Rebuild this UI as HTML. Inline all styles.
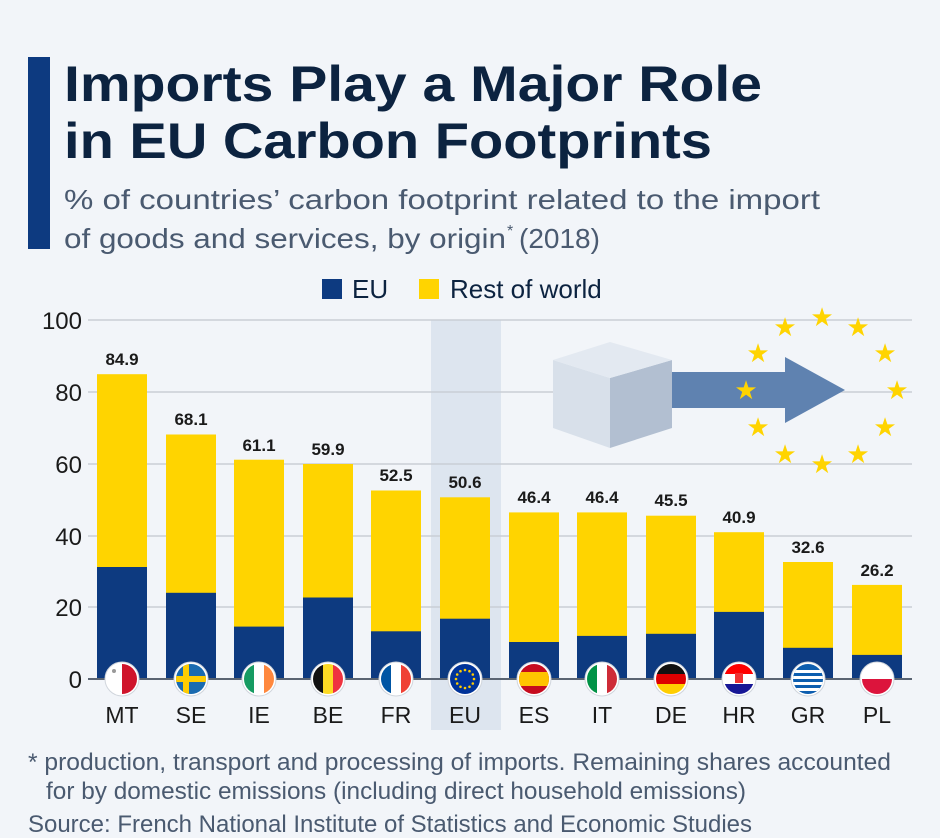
<!DOCTYPE html>
<html><head><meta charset="utf-8"><style>
body{margin:0;background:#f2f5f9;}
svg{display:block;font-family:"Liberation Sans","DejaVu Sans",sans-serif;}
</style></head><body>
<svg width="940" height="838" viewBox="0 0 940 838" xmlns="http://www.w3.org/2000/svg">
<defs><clipPath id="fc"><circle cx="0" cy="0" r="15"/></clipPath></defs>
<rect width="940" height="838" fill="#f2f5f9"/>
<rect x="28" y="57" width="22" height="192" fill="#0d3a80"/>
<text x="64" y="101" font-size="50" font-weight="bold" fill="#0c2340" textLength="698" lengthAdjust="spacingAndGlyphs">Imports Play a Major Role</text>
<text x="64" y="158" font-size="50" font-weight="bold" fill="#0c2340" textLength="648" lengthAdjust="spacingAndGlyphs">in EU Carbon Footprints</text>
<text x="64" y="209" font-size="28" fill="#4a5a70" textLength="756" lengthAdjust="spacingAndGlyphs">% of countries’ carbon footprint related to the import</text>
<text x="64" y="248" font-size="28" fill="#4a5a70" textLength="442" lengthAdjust="spacingAndGlyphs">of goods and services, by origin</text>
<text x="507" y="236" font-size="16" fill="#4a5a70">*</text>
<text x="519" y="248" font-size="28" fill="#4a5a70">(2018)</text>
<rect x="322" y="279" width="20" height="20" fill="#0d3a80"/>
<text x="352" y="298" font-size="26" fill="#0c2340">EU</text>
<rect x="419" y="279" width="20" height="20" fill="#ffd400"/>
<text x="450" y="298" font-size="26" fill="#0c2340">Rest of world</text>
<rect x="431" y="320" width="70" height="410" fill="#dde5ef"/>
<g stroke="#c9ced6" stroke-width="1.5">
<line x1="88" y1="320" x2="912" y2="320"/><line x1="88" y1="392" x2="912" y2="392"/>
<line x1="88" y1="464" x2="912" y2="464"/><line x1="88" y1="536" x2="912" y2="536"/>
<line x1="88" y1="607" x2="912" y2="607"/>
</g>
<g font-size="24" fill="#1a1a1a" text-anchor="end">
<text x="82" y="329">100</text><text x="82" y="401">80</text><text x="82" y="473">60</text>
<text x="82" y="545">40</text><text x="82" y="616">20</text><text x="82" y="688">0</text>
</g>
<g>
<rect x="670" y="372" width="120" height="36" fill="#5f82b0"/>
<polygon points="785,357 845,390 785,423" fill="#5f82b0"/>
<polygon points="553,360 610,378 610,448 553,428" fill="#d8e0ea"/>
<polygon points="610,378 672,360 672,428 610,448" fill="#b2bfd1"/>
<polygon points="553,360 610,342 672,360 610,378" fill="#e3e9f1"/>
</g>
<g fill="#ffd400" font-size="26" text-anchor="middle">
<text x="822" y="326">★</text><text x="858" y="336">★</text><text x="885" y="362">★</text>
<text x="897" y="399">★</text><text x="885" y="436">★</text><text x="858" y="463">★</text>
<text x="822" y="473">★</text><text x="785" y="463">★</text><text x="758" y="436">★</text>
<text x="746" y="399">★</text><text x="758" y="362">★</text><text x="785" y="336">★</text>
</g>
<g>
<rect x="97" y="374.2" width="50" height="304.8" fill="#ffd400"/><rect x="97" y="567" width="50" height="112" fill="#0d3a80"/>
<rect x="166" y="434.5" width="50" height="244.5" fill="#ffd400"/><rect x="166" y="592.8" width="50" height="86.2" fill="#0d3a80"/>
<rect x="234" y="459.7" width="50" height="219.3" fill="#ffd400"/><rect x="234" y="626.6" width="50" height="52.4" fill="#0d3a80"/>
<rect x="303" y="464" width="50" height="215" fill="#ffd400"/><rect x="303" y="597.5" width="50" height="81.5" fill="#0d3a80"/>
<rect x="371" y="490.5" width="50" height="188.5" fill="#ffd400"/><rect x="371" y="631.3" width="50" height="47.7" fill="#0d3a80"/>
<rect x="440" y="497.3" width="50" height="181.7" fill="#ffd400"/><rect x="440" y="618.7" width="50" height="60.3" fill="#0d3a80"/>
<rect x="509" y="512.4" width="50" height="166.6" fill="#ffd400"/><rect x="509" y="642" width="50" height="37" fill="#0d3a80"/>
<rect x="577" y="512.4" width="50" height="166.6" fill="#ffd400"/><rect x="577" y="635.9" width="50" height="43.1" fill="#0d3a80"/>
<rect x="646" y="515.7" width="50" height="163.3" fill="#ffd400"/><rect x="646" y="633.8" width="50" height="45.2" fill="#0d3a80"/>
<rect x="714" y="532.2" width="50" height="146.8" fill="#ffd400"/><rect x="714" y="611.9" width="50" height="67.1" fill="#0d3a80"/>
<rect x="783" y="562" width="50" height="117" fill="#ffd400"/><rect x="783" y="647.8" width="50" height="31.2" fill="#0d3a80"/>
<rect x="852" y="584.9" width="50" height="94.1" fill="#ffd400"/><rect x="852" y="654.9" width="50" height="24.1" fill="#0d3a80"/>
</g>
<g font-size="17" font-weight="bold" fill="#1a1a1a" text-anchor="middle">
<text x="122" y="365">84.9</text><text x="191" y="425">68.1</text><text x="259" y="451">61.1</text>
<text x="328" y="455">59.9</text><text x="396" y="481">52.5</text><text x="465" y="488">50.6</text>
<text x="534" y="503">46.4</text><text x="602" y="503">46.4</text><text x="671" y="506">45.5</text>
<text x="739" y="523">40.9</text><text x="808" y="553">32.6</text><text x="877" y="576">26.2</text>
</g>
<g font-size="23" fill="#1a1a1a" text-anchor="middle">
<text x="122" y="723">MT</text><text x="191" y="723">SE</text><text x="259" y="723">IE</text>
<text x="328" y="723">BE</text><text x="396" y="723">FR</text><text x="465" y="723">EU</text>
<text x="534" y="723">ES</text><text x="602" y="723">IT</text><text x="671" y="723">DE</text>
<text x="739" y="723">HR</text><text x="808" y="723">GR</text><text x="877" y="723">PL</text>
</g>
<line x1="88" y1="679" x2="912" y2="679" stroke="#5a6472" stroke-width="2"/>
<!-- flags -->
<g transform="translate(122,679)"><circle r="17" fill="#fff" stroke="#d0d5dc"/><g clip-path="url(#fc)"><rect x="-15" y="-15" width="15" height="30" fill="#fff"/><rect x="0" y="-15" width="15" height="30" fill="#cf142b"/><circle cx="-8" cy="-8" r="2" fill="#999"/></g></g>
<g transform="translate(191,679)"><circle r="17" fill="#fff" stroke="#d0d5dc"/><g clip-path="url(#fc)"><rect x="-15" y="-15" width="30" height="30" fill="#1a6bb0"/><rect x="-8" y="-15" width="6" height="30" fill="#fecc02"/><rect x="-15" y="-3" width="30" height="6" fill="#fecc02"/></g></g>
<g transform="translate(259,679)"><circle r="17" fill="#fff" stroke="#d0d5dc"/><g clip-path="url(#fc)"><rect x="-15" y="-15" width="10" height="30" fill="#169b62"/><rect x="-5" y="-15" width="10" height="30" fill="#fff"/><rect x="5" y="-15" width="10" height="30" fill="#ff883e"/></g></g>
<g transform="translate(328,679)"><circle r="17" fill="#fff" stroke="#d0d5dc"/><g clip-path="url(#fc)"><rect x="-15" y="-15" width="10" height="30" fill="#111"/><rect x="-5" y="-15" width="10" height="30" fill="#fdda24"/><rect x="5" y="-15" width="10" height="30" fill="#ef3340"/></g></g>
<g transform="translate(396,679)"><circle r="17" fill="#fff" stroke="#d0d5dc"/><g clip-path="url(#fc)"><rect x="-15" y="-15" width="10" height="30" fill="#0055a4"/><rect x="-5" y="-15" width="10" height="30" fill="#fff"/><rect x="5" y="-15" width="10" height="30" fill="#ef4135"/></g></g>
<g transform="translate(465,679)"><circle r="17" fill="#fff" stroke="#d0d5dc"/><circle r="15" fill="#003399"/>
<g fill="#ffcc00"><circle cx="9" cy="0" r="1.3"/><circle cx="7.8" cy="4.5" r="1.3"/><circle cx="4.5" cy="7.8" r="1.3"/><circle cx="0" cy="9" r="1.3"/><circle cx="-4.5" cy="7.8" r="1.3"/><circle cx="-7.8" cy="4.5" r="1.3"/><circle cx="-9" cy="0" r="1.3"/><circle cx="-7.8" cy="-4.5" r="1.3"/><circle cx="-4.5" cy="-7.8" r="1.3"/><circle cx="0" cy="-9" r="1.3"/><circle cx="4.5" cy="-7.8" r="1.3"/><circle cx="7.8" cy="-4.5" r="1.3"/></g></g>
<g transform="translate(534,679)"><circle r="17" fill="#fff" stroke="#d0d5dc"/><g clip-path="url(#fc)"><rect x="-15" y="-15" width="30" height="30" fill="#c60b1e"/><rect x="-15" y="-7" width="30" height="14" fill="#ffc400"/></g></g>
<g transform="translate(602,679)"><circle r="17" fill="#fff" stroke="#d0d5dc"/><g clip-path="url(#fc)"><rect x="-15" y="-15" width="10" height="30" fill="#009246"/><rect x="-5" y="-15" width="10" height="30" fill="#fff"/><rect x="5" y="-15" width="10" height="30" fill="#ce2b37"/></g></g>
<g transform="translate(671,679)"><circle r="17" fill="#fff" stroke="#d0d5dc"/><g clip-path="url(#fc)"><rect x="-15" y="-15" width="30" height="10" fill="#111"/><rect x="-15" y="-5" width="30" height="10" fill="#dd0000"/><rect x="-15" y="5" width="30" height="10" fill="#ffce00"/></g></g>
<g transform="translate(739,679)"><circle r="17" fill="#fff" stroke="#d0d5dc"/><g clip-path="url(#fc)"><rect x="-15" y="-15" width="30" height="10" fill="#ff0000"/><rect x="-15" y="-5" width="30" height="10" fill="#fff"/><rect x="-15" y="5" width="30" height="10" fill="#171796"/><rect x="-4" y="-6" width="8" height="10" fill="#e33"/></g></g>
<g transform="translate(808,679)"><circle r="17" fill="#fff" stroke="#d0d5dc"/><g clip-path="url(#fc)"><rect x="-15" y="-15" width="30" height="30" fill="#0d5eaf"/><rect x="-15" y="-9" width="30" height="3" fill="#fff"/><rect x="-15" y="-3" width="30" height="3" fill="#fff"/><rect x="-15" y="3" width="30" height="3" fill="#fff"/><rect x="-15" y="9" width="30" height="3" fill="#fff"/></g></g>
<g transform="translate(877,679)"><circle r="17" fill="#fff" stroke="#d0d5dc"/><g clip-path="url(#fc)"><rect x="-15" y="-15" width="30" height="15" fill="#fff"/><rect x="-15" y="0" width="30" height="15" fill="#dc143c"/></g></g>
<g font-size="24" fill="#4a5a70">
<text x="28" y="770" textLength="863" lengthAdjust="spacingAndGlyphs">* production, transport and processing of imports. Remaining shares accounted</text>
<text x="46" y="799" textLength="700" lengthAdjust="spacingAndGlyphs">for by domestic emissions (including direct household emissions)</text>
<text x="28" y="832" textLength="724" lengthAdjust="spacingAndGlyphs">Source: French National Institute of Statistics and Economic Studies</text>
</g>
</svg>
</body></html>
